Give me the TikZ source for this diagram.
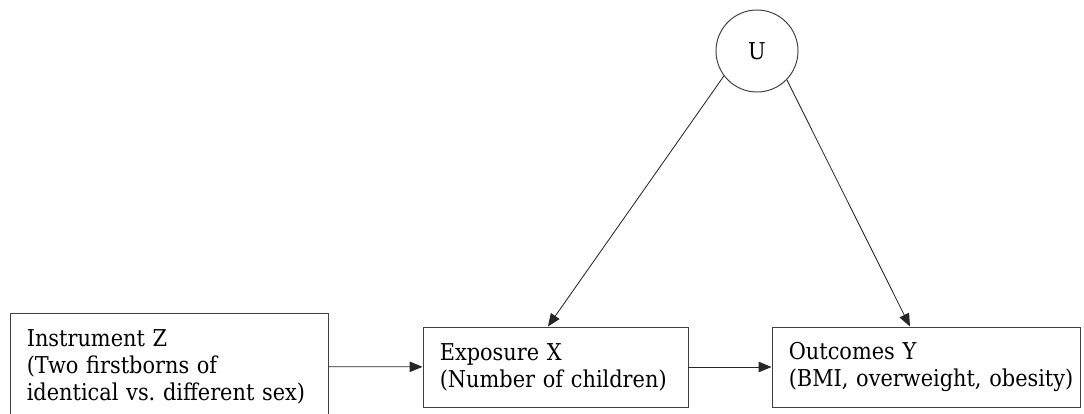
\documentclass[tikz,border=0pt]{standalone}
\usepackage{fontspec}
\setmainfont{DejaVu Serif Condensed}
\usepackage{tikz}
\usetikzlibrary{arrows.meta}
\frenchspacing
\tikzset{box/.style={draw=black!75, line width=0.7pt, inner xsep=0.42cm, inner ysep=0pt, align=left, font=\fontsize{16.5}{19.2}\selectfont}}
\tikzset{latent/.style={draw=black!75, line width=0.7pt, circle, minimum size=2.05cm, inner sep=0pt, font=\fontsize{16.5}{19.2}\selectfont}}
\tikzset{cause/.style={draw=black!85, line width=0.6pt, -{Triangle[length=3.2mm, width=2.6mm]}}}

\begin{document}
\begin{tikzpicture}
            \useasboundingbox (0, 0) rectangle (27.1, -10.325);
            \clip (0, 0) rectangle (27.1, -10.325);
            \node[latent] (U) at (18.925, -1.275) {U};
            \node[box, text width=7.11cm, minimum height=2.675cm] (Z) at (4.225, -9.1625)
                {Instrument Z\\(Two firstborns of\\\mbox{identical vs. different sex)}};
            \node[box, text width=5.785cm, minimum height=2cm] (X) at (13.8875, -9.175)
                {Exposure X\\\mbox{(Number of children)}};
            \node[box, text width=6.86cm, minimum height=2cm] (Y) at (23.15, -9.175)
                {Outcomes Y\\\mbox{(BMI, overweight, obesity)}};
            \draw[cause] (Z) -- (X);
            \draw[cause] (X) -- (Y);
            \draw[cause] (U.217) -- ([xshift=-0.19cm]X.north);
            \draw[cause] (U.316) -- ([xshift=-0.4cm]Y.north);
        \end{tikzpicture}
\end{document}
